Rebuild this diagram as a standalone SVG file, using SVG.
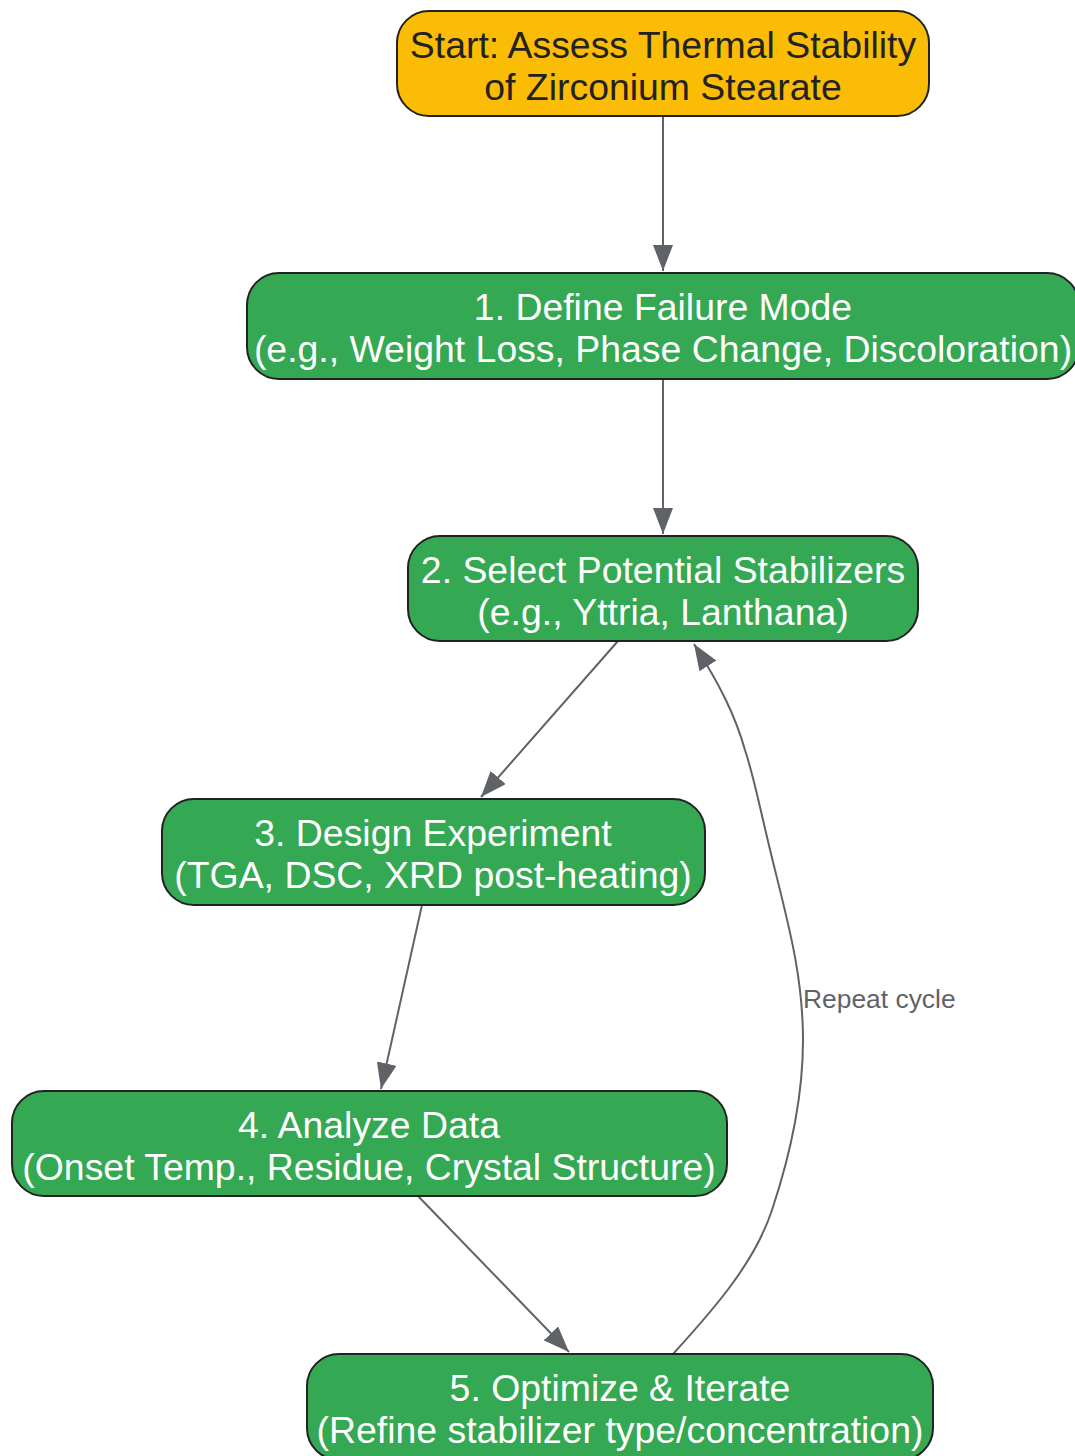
<svg xmlns="http://www.w3.org/2000/svg" width="1075" height="1456" viewBox="0 0 1075 1456">
<style>
.node rect{stroke:#222;stroke-width:2}
.start rect{fill:#FBBC05}
.green rect{fill:#34A853}
.node text{font-family:"Liberation Sans",Arial,sans-serif;font-size:37.4px;text-anchor:middle}
.start text{fill:#222}
.green text{fill:#fff}
.edge{fill:none;stroke:#5f6368;stroke-width:2}
.lbl{font-family:"Liberation Sans",Arial,sans-serif;font-size:26.4px;fill:#5f6368}
</style>
<defs>
<marker id="ah" markerUnits="userSpaceOnUse" markerWidth="26" markerHeight="20" refX="26" refY="10" orient="auto">
<path d="M0,0 L26,10 L0,20 z" fill="#5f6368"/>
</marker>
</defs>
<rect width="1075" height="1456" fill="#fff"/>
<g id="connectors">
<path class="edge" d="M663,116 L663,271" marker-end="url(#ah)"/>
<path class="edge" d="M663,379 L663,534" marker-end="url(#ah)"/>
<path class="edge" d="M618,641 L481,797" marker-end="url(#ah)"/>
<path class="edge" d="M422,905 L381,1089" marker-end="url(#ah)"/>
<path class="edge" d="M418,1196 L569,1352" marker-end="url(#ah)"/>
<path class="edge" d="M673,1354 C715,1308 755,1262 772,1210 C792,1150 803,1090 803,1040 C803,980 790,930 775,870 C760,810 755,780 745,750 C735,715 720,685 694,644" marker-end="url(#ah)"/>
<text class="lbl" x="803" y="1008">Repeat cycle</text>
</g>
<g id="start" class="node start">
<rect x="397" y="11" width="532" height="105" rx="32"/>
<text x="663" y="58">Start: Assess Thermal Stability</text>
<text x="663" y="100">of Zirconium Stearate</text>
</g>
<g id="n1" class="node green">
<rect x="247" y="273" width="832" height="106" rx="32"/>
<text x="663" y="320">1. Define Failure Mode</text>
<text x="663" y="362">(e.g., Weight Loss, Phase Change, Discoloration)</text>
</g>
<g id="n2" class="node green">
<rect x="408" y="536" width="510" height="105" rx="32"/>
<text x="663" y="583">2. Select Potential Stabilizers</text>
<text x="663" y="625">(e.g., Yttria, Lanthana)</text>
</g>
<g id="n3" class="node green">
<rect x="162" y="799" width="543" height="106" rx="32"/>
<text x="433" y="846">3. Design Experiment</text>
<text x="433" y="888">(TGA, DSC, XRD post-heating)</text>
</g>
<g id="n4" class="node green">
<rect x="12" y="1091" width="715" height="105" rx="32"/>
<text x="369" y="1138">4. Analyze Data</text>
<text x="369" y="1180">(Onset Temp., Residue, Crystal Structure)</text>
</g>
<g id="n5" class="node green">
<rect x="307" y="1354" width="626" height="106" rx="32"/>
<text x="620" y="1401">5. Optimize &amp; Iterate</text>
<text x="620" y="1443">(Refine stabilizer type/concentration)</text>
</g>
</svg>
